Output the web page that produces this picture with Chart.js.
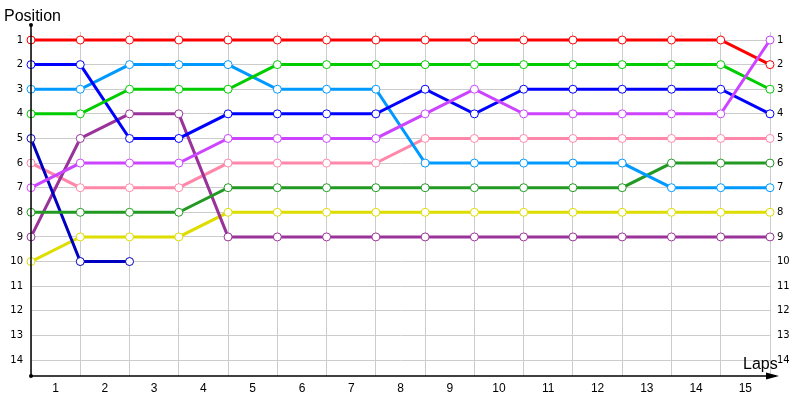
<!DOCTYPE html>
<html>
<head>
<meta charset="utf-8">
<script src="https://cdn.jsdelivr.net/npm/chart.js@4"></script>
<style>
  html, body { margin:0; padding:0; background:#fff; }
</style>
</head>
<body>
<canvas id="race" width="800" height="400"></canvas>
<script>
// --- Data ---
const lapPoints = ["0","1","2","3","4","5","6","7","8","9","10","11","12","13","14","15"];
const lapLabels = ["1","2","3","4","5","6","7","8","9","10","11","12","13","14","15"];

const redCar       = [1,1,1,1,1,1,1,1,1,1,1,1,1,1,1,2];
const greenCar     = [4,4,3,3,3,2,2,2,2,2,2,2,2,2,2,3];
const blueCar      = [2,2,5,5,4,4,4,4,3,4,3,3,3,3,3,4];
const skyCar       = [3,3,2,2,2,3,3,3,6,6,6,6,6,7,7,7];
const violetCar    = [7,6,6,6,5,5,5,5,4,3,4,4,4,4,4,1];
const pinkCar      = [6,7,7,7,6,6,6,6,5,5,5,5,5,5,5,5];
const forestCar    = [8,8,8,8,7,7,7,7,7,7,7,7,7,6,6,6];
const yellowCar    = [10,9,9,9,8,8,8,8,8,8,8,8,8,8,8,8];
const plumCar      = [9,5,4,4,9,9,9,9,9,9,9,9,9,9,9,9];
const navyCar      = [5,10,10,null,null,null,null,null,null,null,null,null,null,null,null,null];

const cars = [
  { data: violetCar, color: "#cc44ff" },
  { data: redCar,    color: "#ff0000" },
  { data: greenCar,  color: "#00cc00" },
  { data: blueCar,   color: "#0000ff" },
  { data: skyCar,    color: "#0099ff" },
  { data: forestCar, color: "#229922" },
  { data: navyCar,   color: "#0000c0" },
  { data: plumCar,   color: "#993399" },
  { data: pinkCar,   color: "#ff88aa" },
  { data: yellowCar, color: "#dddd00" }
];

const gridGray = "#cccccc";
const tickFont = { family: "DejaVu Sans", size: 10 };

// axis lines, arrow and titles
const axisDecor = {
  id: "axisDecor",
  afterDraw(chart){
    const {ctx, chartArea:a} = chart;
    ctx.save();
    ctx.strokeStyle = "#000";
    ctx.fillStyle = "#000";
    ctx.lineWidth = 1.5;
    ctx.beginPath();
    ctx.moveTo(a.left, a.top - 7);
    ctx.lineTo(a.left, a.bottom);
    ctx.lineTo(a.right + 6, a.bottom);
    ctx.stroke();
    ctx.beginPath();
    ctx.moveTo(a.right + 9, a.bottom);
    ctx.lineTo(a.right - 4, a.bottom - 3.5);
    ctx.lineTo(a.right - 4, a.bottom + 3.5);
    ctx.closePath();
    ctx.fill();
    ctx.beginPath(); ctx.arc(a.left, a.top - 7, 2, 0, Math.PI*2); ctx.fill();
    ctx.beginPath(); ctx.arc(a.left, a.bottom, 2, 0, Math.PI*2); ctx.fill();

    ctx.font = "16px 'Liberation Sans'";
    ctx.textBaseline = "alphabetic";
    ctx.textAlign = "left";
    ctx.fillText("Position", 4, 21);
    ctx.fillText("Laps", 743, 369);
    ctx.restore();
  }
};

new Chart(document.getElementById("race"), {
  type: "line",
  data: {
    labels: lapPoints,
    datasets: cars.map(c => ({
      data: c.data,
      borderColor: c.color,
      backgroundColor: "#ffffff",
      borderWidth: 3,
      pointRadius: 4,
      pointBorderWidth: 1,
      pointBorderColor: c.color,
      pointBackgroundColor: "#ffffff",
      tension: 0,
      spanGaps: false,
      clip: false,
      yAxisID: "y",
      xAxisID: "x"
    }))
  },
  options: {
    responsive: false,
    animation: false,
    layout: { padding: { top: 32, left: 0, right: 0, bottom: 0 } },
    plugins: { legend: { display: false }, tooltip: { enabled: false } },
    scales: {
      x: {
        type: "category",
        position: "bottom",
        offset: false,
        grid: { color: gridGray, drawTicks: false },
        border: { display: false },
        ticks: { display: false },
        afterFit(s){ s.height = 0; }
      },
      lapAxis: {
        type: "category",
        labels: lapLabels,
        position: "bottom",
        offset: true,
        grid: { display: false, drawTicks: false },
        border: { display: false },
        ticks: { color: "#000", padding: 5, font: { family: "Liberation Sans", size: 12 }, autoSkip: false, maxRotation: 0 },
        afterFit(s){ s.height = 24; }
      },
      y: {
        type: "linear",
        position: "left",
        reverse: true,
        min: 0.675,
        max: 14.65,
        grid: { color: gridGray, drawTicks: false },
        border: { display: false },
        ticks: {
          stepSize: 1, includeBounds: false, autoSkip: false,
          color: "#000", padding: 8, font: tickFont,
          callback: v => Number.isInteger(v) ? String(v) : ""
        },
        afterFit(s){ s.width = 31; }
      },
      y2: {
        type: "linear",
        position: "right",
        reverse: true,
        min: 0.675,
        max: 14.65,
        grid: { display: false, drawTicks: false },
        border: { display: false },
        ticks: {
          stepSize: 1, includeBounds: false, autoSkip: false,
          color: "#000", padding: 7, font: tickFont,
          callback: v => Number.isInteger(v) ? String(v) : ""
        },
        afterFit(s){ s.width = 30; }
      }
    }
  },
  plugins: [axisDecor]
});
</script>
</body>
</html>
